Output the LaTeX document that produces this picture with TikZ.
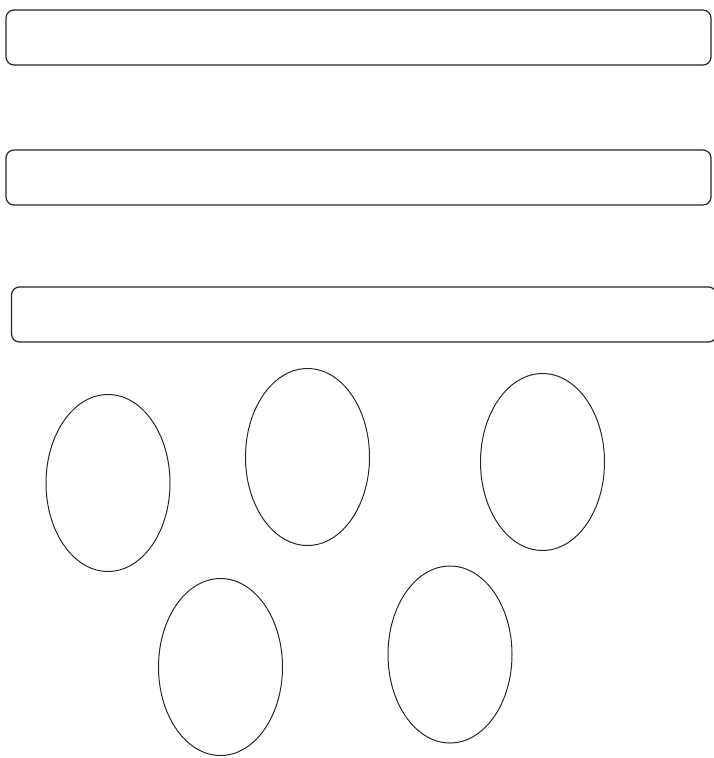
\documentclass[tikz,border=0pt]{standalone}
\usepackage{tikz}
\usetikzlibrary{shapes.geometric}

\tikzset{
  bar/.style={draw=black!85, line width=1.2pt, rounded corners=8pt, minimum height=55pt, inner sep=0pt},
  blob/.style={ellipse, draw=black!85, line width=1pt, minimum width=124pt, minimum height=177pt, inner sep=0pt}
}

\begin{document}
\begin{tikzpicture}[x=1pt,y=-1pt]
        \useasboundingbox (0,0) rectangle (713,758);

        % bars
        \node[bar, minimum width=705pt] (barA) at (358.5,37.5) {};
        \node[bar, minimum width=705pt] (barB) at (358.5,177.5) {};
        \node[bar, minimum width=705pt] (barC) at (364,314.5) {};

        % ellipses
        \node[blob] (e1) at (108,483) {};
        \node[blob] (e2) at (307.5,457) {};
        \node[blob] (e3) at (542.5,462) {};
        \node[blob] (e4) at (220.5,667) {};
        \node[blob] (e5) at (450,654.5) {};
    \end{tikzpicture}
\end{document}
